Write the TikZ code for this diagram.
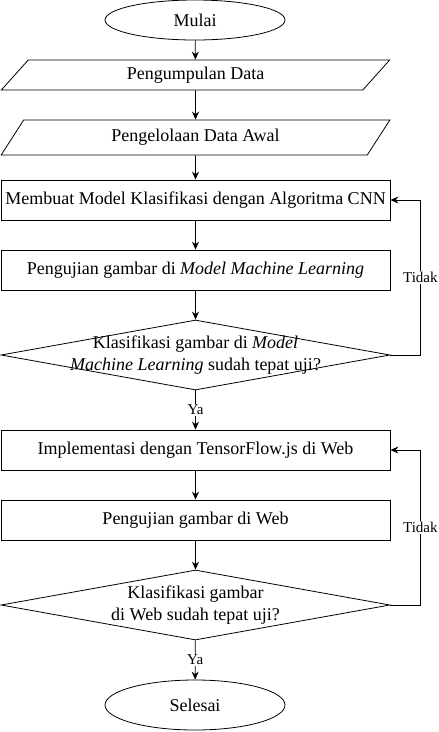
\documentclass[tikz,border=0pt]{standalone}
\usepackage{fontspec}
\setmainfont{Liberation Serif}
\usetikzlibrary{shapes.geometric,arrows.meta}

\tikzset{
  box/.style={draw, line width=.8pt, minimum width=389pt, minimum height=40pt,
    inner sep=0pt, font=\fontsize{18}{22}\selectfont},
  terminal/.style={draw, ellipse, line width=.8pt, minimum width=180pt,
    inner sep=0pt, font=\fontsize{18}{22}\selectfont},
  datain/.style={draw, trapezium, trapezium stretches=true,
    trapezium left angle=56, trapezium right angle=124, line width=.8pt,
    minimum width=389pt, inner sep=0pt, font=\fontsize{18}{22}\selectfont},
  decision/.style={draw, diamond, line width=.8pt, minimum width=389pt,
    minimum height=70pt, inner sep=0pt},
  dtext/.style={align=center, font=\fontsize{18}{22}\selectfont},
  lbl/.style={fill=white, inner sep=1pt, font=\fontsize{15}{18}\selectfont},
  arr/.style={line width=.8pt, -{Stealth[length=8pt,width=7pt]}}
}

\begin{document}
\begin{tikzpicture}[x=1pt,y=-1pt]
  \useasboundingbox (0,0) rectangle (439,732);

  \node[terminal, minimum height=40pt] (mulai) at (195,20) {Mulai};
  \node[datain, minimum height=30pt] (kumpul) at (195.5,75) {Pengumpulan Data};
  \node[datain, minimum height=35pt] (olah) at (195.5,137.5) {Pengelolaan Data Awal};
  \node[box] (model) at (195.5,200) {Membuat Model Klasifikasi dengan Algoritma CNN};
  \node[box] (ujiml) at (195.5,270) {Pengujian gambar di \textit{Model Machine Learning}};
  \node[decision] (cekml) at (195.5,355) {};
  \node[dtext] at (cekml.center) {Klasifikasi gambar di \textit{Model}\\
    \textit{Machine Learning} sudah tepat uji?};
  \node[box] (impl) at (195.5,450) {Implementasi dengan TensorFlow.js di Web};
  \node[box] (ujiweb) at (195.5,520) {Pengujian gambar di Web};
  \node[decision] (cekweb) at (195.5,605) {};
  \node[dtext] at (cekweb.center) {Klasifikasi gambar\\ di Web sudah tepat uji?};
  \node[terminal, minimum height=50pt] (selesai) at (195,705) {Selesai};

  % alur utama
  \draw[arr] (mulai) -- (kumpul);
  \draw[arr] (kumpul) -- (olah);
  \draw[arr] (olah) -- (model);
  \draw[arr] (model) -- (ujiml);
  \draw[arr] (ujiml) -- (cekml);
  \draw[arr] (cekml) -- node[lbl]{Ya} (impl);
  \draw[arr] (impl) -- (ujiweb);
  \draw[arr] (ujiweb) -- (cekweb);
  \draw[arr] (cekweb) -- node[lbl]{Ya} (selesai);

  % umpan balik
  \draw[arr] (cekml.east) -- ++(30,0) |- node[lbl,pos=.25]{Tidak} (model.east);
  \draw[arr] (cekweb.east) -- ++(30,0) |- node[lbl,pos=.25]{Tidak} (impl.east);
\end{tikzpicture}
\end{document}
